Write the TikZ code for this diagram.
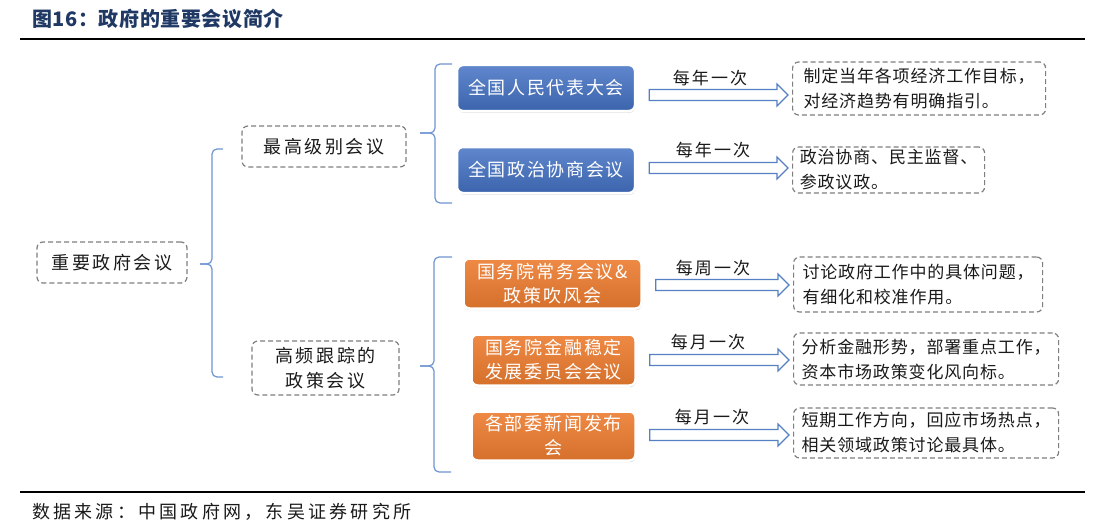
\documentclass[tikz,border=0pt]{standalone}
\usepackage{fontspec}
\setmainfont{Noto Sans CJK SC}
\usetikzlibrary{shadows,calc}
\definecolor{titleblue}{HTML}{1F3864}
\definecolor{nodeblue}{HTML}{4472C4}
\definecolor{nodeorange}{HTML}{ED7D31}
\definecolor{linkblue}{HTML}{6F95D2}
\definecolor{arrowblue}{HTML}{5580C4}
\definecolor{dashgray}{HTML}{7F7F7F}
\definecolor{txt}{HTML}{1A1A1A}
\newcommand\fsz[3]{\fontsize{#1}{#2}\selectfont\addfontfeatures{LetterSpace=#3}}
\newcommand\harrow[3]{%
  \coordinate (hs) at ($(#1.east)+(13,#3)$);
  \draw[hollowarrow] ($(hs)+(0,-5.5)$) -- ($(#2.west |- hs)+(-15,-5.5)$) -- ++(0,-5.5)
    -- ($(#2.west |- hs)+(-4,0)$) -- ($(#2.west |- hs)+(-15,11)$) -- ++(0,-5.5)
    -- ($(hs)+(0,5.5)$) -- cycle;}
\tikzset{
  dbox/.style={draw=dashgray, dash pattern=on 5pt off 3pt, line width=1.2pt, rounded corners=6pt,
    text=txt, inner sep=0pt, align=center},
  rbox/.style={draw=dashgray, dash pattern=on 5pt off 3pt, line width=1.2pt, rounded corners=6pt,
    text=txt, inner ysep=0pt, inner xsep=6pt, align=left, anchor=west, font=\fsz{17}{25}{5}},
  meetbox/.style={draw=white, line width=2.5pt, rounded corners=6pt, text=white, inner sep=0pt,
    align=center, drop shadow={opacity=0.35, shadow xshift=0.6pt, shadow yshift=-1.6pt}},
  bluebox/.style={meetbox, top color=nodeblue!85!white, bottom color=nodeblue!88!black,
    minimum width=178pt, minimum height=46pt, font=\fsz{18}{24}{9}},
  orangebox/.style={meetbox, top color=nodeorange!90!white, bottom color=nodeorange!90!black,
    font=\fsz{18}{24}{10}},
  bracestyle/.style={draw=linkblue, line width=1.2pt, rounded corners=5pt},
  hollowarrow/.style={draw=arrowblue, line width=1.2pt, fill=white, line join=miter},
  freq/.style={text=txt, font=\fsz{17}{20}{12}, inner sep=0pt},
}
\begin{document}
\begin{tikzpicture}[x=1pt, y=-1pt]
\useasboundingbox (0,0) rectangle (1100,527);
\fill[white] (0,0) rectangle (1100,527);
% title and rules
\node[anchor=west, text=titleblue, font=\bfseries\fsz{20}{23}{3}, inner sep=0pt] (title) at (32,19) {图16：政府的重要会议简介};
\draw[line width=1.6pt] (20,39) coordinate (rt1) -- (1085,39) coordinate (rt2);
\draw[line width=1.6pt] (20,492) coordinate (rb1) -- (1085,492) coordinate (rb2);
\node[anchor=west, text=txt, font=\fsz{18}{22}{18}, inner sep=0pt] (src) at (32,512) {数据来源：中国政府网，东吴证券研究所};

% left nodes
\node[dbox, minimum width=150pt, minimum height=41pt, font=\fsz{18}{25}{14}] (n0) at (112,262.5) {重要政府会议};
\node[dbox, minimum width=164pt, minimum height=41pt, font=\fsz{18}{25}{14}] (n1) at (324,146.5) {最高级别会议};
\node[dbox, minimum width=147pt, minimum height=54pt, font=\fsz{18}{25}{14}] (n2) at (325.5,368) {高频跟踪的\\政策会议};

% braces
\coordinate (b1t) at (223,149); \coordinate (b1m) at (200,264); \coordinate (b1b) at (223,377);
\draw[bracestyle] (b1t) -- (212,149) -- (212,264) -- (b1m);
\draw[bracestyle] (b1m) -- (212,264) -- (212,377) -- (b1b);
\coordinate (b2t) at (452,64); \coordinate (b2m) at (420,133); \coordinate (b2b) at (452,203);
\draw[bracestyle] (b2t) -- (435,64) -- (435,133) -- (b2m);
\draw[bracestyle] (b2m) -- (435,133) -- (435,203) -- (b2b);
\coordinate (b3t) at (452,257); \coordinate (b3m) at (420,366); \coordinate (b3b) at (451,472);
\draw[bracestyle] (b3t) -- (434,257) -- (434,366) -- (b3m);
\draw[bracestyle] (b3m) -- (434,366) -- (434,472) -- (b3b);

% meeting nodes
\node[bluebox] (m1) at (546,88) {全国人民代表大会};
\node[bluebox] (m2) at (546,170) {全国政治协商会议};
\node[orangebox, minimum width=178pt, minimum height=50pt] (m3) at (552.5,283.5) {国务院常务会议\&\\政策吹风会};
\node[orangebox, minimum width=164pt, minimum height=51pt] (m4) at (553.5,360) {国务院金融稳定\\发展委员会会议};
\node[orangebox, minimum width=164pt, minimum height=49pt] (m5) at (553.5,436) {各部委新闻发布\\会};

% right description boxes
\node[rbox, minimum width=253pt, minimum height=53pt] (r1) at (792,88.5) {制定当年各项经济工作目标，\\对经济趋势有明确指引。};
\node[rbox, minimum width=192pt, minimum height=46pt] (r2) at (792,170) {政治协商、民主监督、\\参政议政。};
\node[rbox, minimum width=249pt, minimum height=55pt] (r3) at (793,284.5) {讨论政府工作中的具体问题，\\有细化和校准作用。};
\node[rbox, minimum width=265pt, minimum height=52pt] (r4) at (793,359) {分析金融形势，部署重点工作，\\资本市场政策变化风向标。};
\node[rbox, minimum width=265pt, minimum height=50pt] (r5) at (793,433) {短期工作方向，回应市场热点，\\相关领域政策讨论最具体。};

% arrows
\harrow{m1}{r1}{7}
\harrow{m2}{r2}{-2}
\harrow{m3}{r3}{1.5}
\harrow{m4}{r4}{0}
\harrow{m5}{r5}{-1}

% frequency labels
\node[freq] (f1) at (710,78) {每年一次};
\node[freq] (f2) at (713,150) {每年一次};
\node[freq] (f3) at (713,268) {每周一次};
\node[freq] (f4) at (708,342) {每月一次};
\node[freq] (f5) at (712,417) {每月一次};
\end{tikzpicture}
\end{document}
